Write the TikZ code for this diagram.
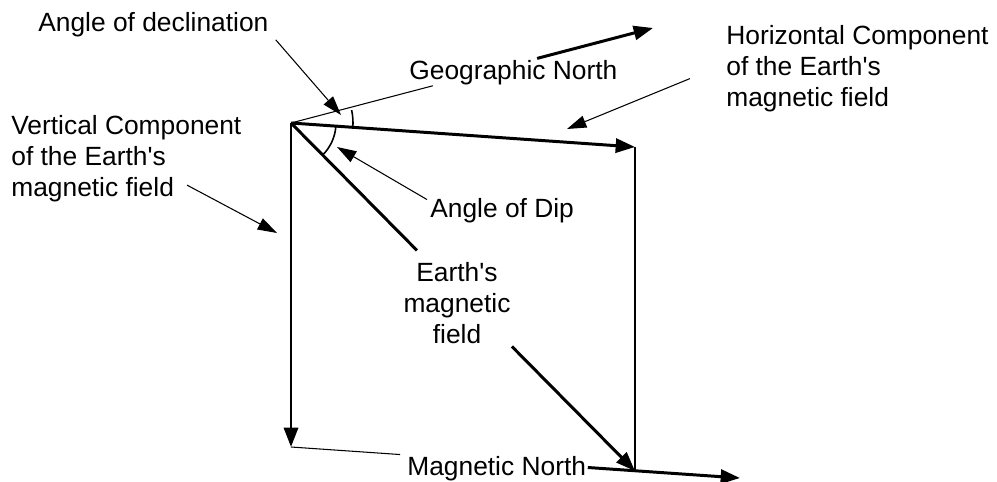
\documentclass[tikz,border=0pt]{standalone}
\usepackage{fontspec}
\setmainfont{Liberation Sans}
\usepackage{tikz}
\usetikzlibrary{arrows.meta,positioning,calc}

\begin{document}
\begin{tikzpicture}[
    x=0.02cm, y=0.02cm,
    font=\fontsize{15pt}{17.6pt}\selectfont,
    lbl/.style={inner sep=0pt, align=left},
    vec/.style={line width=1.7pt, -{Triangle[length=11pt,width=8pt]}},
    vecline/.style={line width=1.7pt},
    thinline/.style={line width=0.6pt},
    anglearc/.style={line width=0.9pt},
    pointer/.style={line width=0.6pt, -{Triangle[length=11pt,width=7pt]}}
]
\useasboundingbox (0,0) rectangle (997,481);
\coordinate (O) at (291,358);
\coordinate (H) at (635,334);
\coordinate (V) at (291,34);
\coordinate (F) at (635,10);
\coordinate (GN) at (653,453);
\coordinate (MN) at (740,3);
\coordinate (dtip) at (341,366);
\coordinate (htip) at (567,352);
\coordinate (vtip) at (277,248);
\coordinate (ptip) at (337,334);

\node[lbl, anchor=base west] (decl) at (38,449) {Angle of declination};
\node[lbl, anchor=base west] (geo) at (409,401) {Geographic North};
\node[lbl, anchor=north west] (horiz) at (726,456) {Horizontal Component\\of the Earth\textquotesingle s\\magnetic field};
\node[lbl, anchor=north west] (vert) at (11,366) {Vertical Component\\of the Earth\textquotesingle s\\magnetic field};
\node[lbl, anchor=base west] (dip) at (430,264) {Angle of Dip};
\node[lbl, anchor=north, align=center] (field) at (457,219) {Earth\textquotesingle s\\magnetic\\field};
\node[lbl, anchor=base west] (mag) at (407,6) {Magnetic North};

\draw[thinline] (O) -- ($(O)!0.392!(GN)$);
\draw[vec] ($(O)!0.68!(GN)$) -- (GN);
\draw[vec] (O) -- (H);
\draw[vec] (O) -- (V);
\draw[vecline] (O) -- ($(O)!0.366!(F)$);
\draw[vec] ($(O)!0.642!(F)$) -- (F);
\draw[thinline] (H) -- (F);
\draw[thinline] (V) -- ($(V)!0.243!(MN)$);
\draw[vec] ($(V)!0.661!(MN)$) -- (MN);

\draw[anglearc] ($(O)+(-4:62)$) arc[start angle=-4, end angle=12, radius=62];
\draw[anglearc] ($(O)+(-5:45)$) arc[start angle=-5, end angle=-45, radius=45];

\draw[pointer] ([shift={(7,-2)}]decl.south east) -- (dtip);
\draw[pointer] ([shift={(-36,-10)}]horiz.west) -- (htip);
\draw[pointer] ([shift={(176,17)}]vert.south west) -- (vtip);
\draw[pointer] ([shift={(-3,-2)}]dip.north west) -- (ptip);
\end{tikzpicture}
\end{document}
